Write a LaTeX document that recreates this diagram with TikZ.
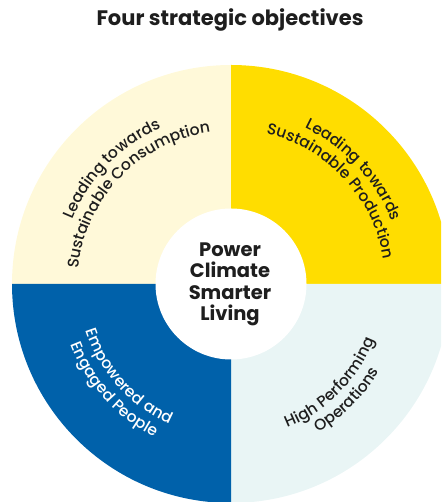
\documentclass[tikz,border=0pt]{standalone}
\usepackage{fontspec}
\setmainfont{Poppins}
\newfontfamily\medfont{Poppins}[UprightFont=* Medium]
\usetikzlibrary{decorations.text}
\definecolor{paleyellow}{HTML}{FFF9D9}
\definecolor{sunyellow}{HTML}{FFDD00}
\definecolor{paleteal}{HTML}{E9F5F5}
\definecolor{deepblue}{HTML}{0061AA}
\definecolor{ink}{HTML}{1E1E1E}
\tikzset{
  quarter/.style={fill=#1},
  hubtext/.style={font=\bfseries\fontsize{19.5}{22}\selectfont, text=ink, anchor=base, inner sep=0},
}
\newcommand{\arctxt}[6]{% color, text, center angle, radius, direction(+1 ccw / -1 cw)
  \begingroup\medfont\fontsize{15.6}{18}\selectfont
  \path[decorate, decoration={text along path, text align=center, text color=#1,
    text={#2}}]
    ([shift={(#3-#5*60:#4)}]C) arc[start angle=#3-#5*60, end angle=#3+#5*60, radius=#4];
  \endgroup
}
\begin{document}
\begin{tikzpicture}[x=1pt,y=1pt]
\useasboundingbox (0,0) rectangle (441,502);
\clip (0,0) rectangle (441,502);
\coordinate (C) at (231,218);
\fill[quarter=paleyellow] (C) -- ++(180:219) arc[start angle=180,end angle=90,radius=219] -- cycle;
\fill[quarter=sunyellow] (C) -- ++(90:219) arc[start angle=90,end angle=0,radius=219] -- cycle;
\fill[quarter=paleteal] (C) -- ++(0:219) arc[start angle=0,end angle=-90,radius=219] -- cycle;
\fill[quarter=deepblue] (C) -- ++(270:219) arc[start angle=270,end angle=180,radius=219] -- cycle;
\node[circle, fill=white, minimum size=151, inner sep=0] (hub) at (C) {};
\node[font=\bfseries\fontsize{21}{25}\selectfont, text=ink, anchor=base] (title) at (230,476) {Four strategic objectives};
\node[hubtext] (c1) at (230,245) {Power};
\node[hubtext] (c2) at (230,224) {Climate};
\node[hubtext] (c3) at (230,202) {Smarter};
\node[hubtext] (c4) at (230,181) {Living};
% top-left (clockwise)
\arctxt{ink}{Leading towards}{136}{171}{-1}{}
\arctxt{ink}{Sustainable Consumption}{136}{153}{-1}{}
% top-right
\arctxt{ink}{Leading towards}{43}{172.5}{-1}{}
\arctxt{ink}{Sustainable Production}{43}{154.5}{-1}{}
% bottom-left (counter-clockwise)
\arctxt{white}{Empowered and}{222}{152.5}{1}{}
\arctxt{white}{Engaged People}{222}{171}{1}{}
% bottom-right
\arctxt{ink}{High Performing}{-45}{154}{1}{}
\arctxt{ink}{Operations}{-45}{172}{1}{}
\end{tikzpicture}
\end{document}
